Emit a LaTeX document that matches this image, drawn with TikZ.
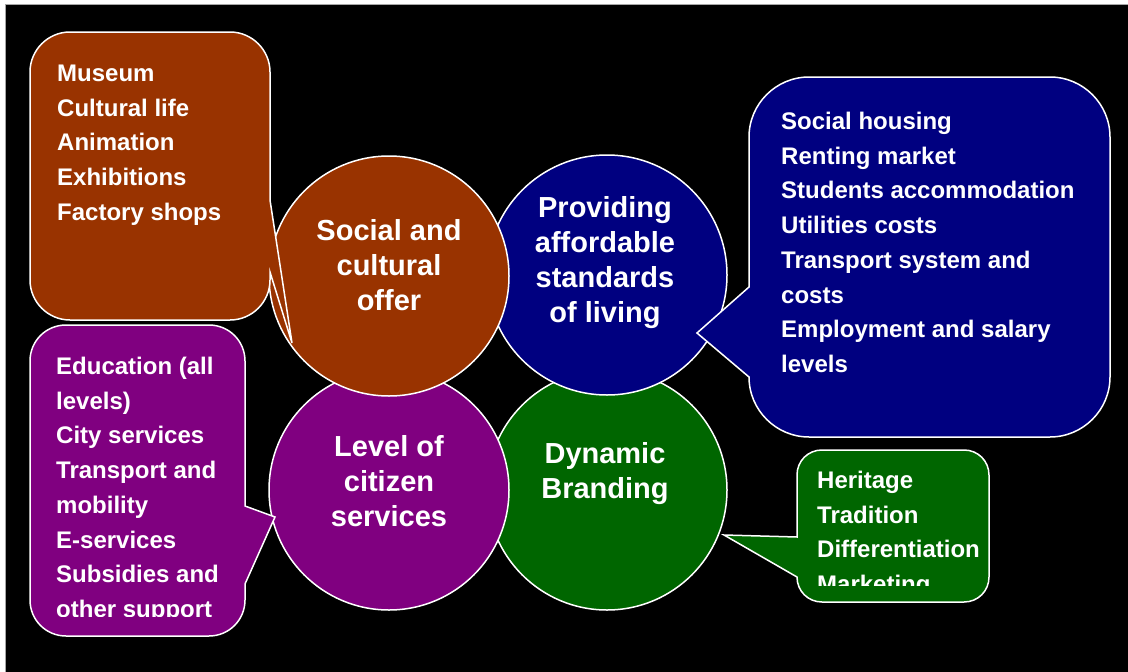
\documentclass[tikz,border=0pt]{standalone}
\usepackage{fontspec}
\setmainfont{Liberation Sans}
\definecolor{cbrown}{RGB}{153,51,0}
\definecolor{cblue}{RGB}{0,0,128}
\definecolor{cpurple}{RGB}{128,0,128}
\definecolor{cgreen}{RGB}{0,102,0}
\tikzset{
  disc/.style={circle, draw=white, line width=1.5pt, minimum size=240pt, inner sep=0pt},
  bubble/.style={draw=white, line width=1.5pt},
  big/.style={text=white, inner sep=0pt, anchor=base, align=center, font=\bfseries\fontsize{29}{35}\selectfont},
  item/.style={text=white, inner sep=0pt, anchor=base west, font=\bfseries\fontsize{24}{29}\selectfont},
}
\begin{document}
\begin{tikzpicture}[x=1pt,y=-1pt]
\useasboundingbox (0,0) rectangle (1128,672);
\fill[white] (0,0) rectangle (1128,672);
\fill[black] (5,4) rectangle (1128,672);
\draw[gray!70, line width=0.6pt] (5,672) -- (5,4) -- (1128,4);

% four overlapping discs
\node[disc, fill=cgreen]  (brand)    at (607,490) {};
\node[disc, fill=cblue]   (living)   at (607,275) {};
\node[disc, fill=cpurple] (services) at (389,490) {};
\node[disc, fill=cbrown]  (culture)  at (389,276) {};

% disc titles (anchored at the baseline of their last line)
\node[big] (tculture)  at (389,310) {Social and\\cultural\\offer};
\node[big] (tliving)   at (605,322) {Providing\\affordable\\standards\\of living};
\node[big] (tservices) at (389,526) {Level of\\citizen\\services};
\node[big] (tbrand)    at (605,498) {Dynamic\\Branding};

% callout: culture
\filldraw[bubble, fill=cbrown]
  (70,32) -- (230,32) .. controls (252,32) and (270,50) .. (270,72)
  -- (270,200) -- (292,343) -- (270,272) -- (270,280)
  .. controls (270,302) and (252,320) .. (230,320) -- (70,320)
  .. controls (48,320) and (30,302) .. (30,280) -- (30,72)
  .. controls (30,50) and (48,32) .. (70,32) -- cycle;
\foreach \t [count=\i] in {Museum,Cultural life,Animation,Exhibitions,Factory shops}
  \node[item, name=c\i] at (57,{81.5+34.7*(\i-1)}) {\t};

% callout: living
\filldraw[bubble, fill=cblue]
  (809,77) -- (1050,77) .. controls (1083,77) and (1110,104) .. (1110,137)
  -- (1110,377) .. controls (1110,410) and (1083,437) .. (1050,437)
  -- (809,437) .. controls (776,437) and (749,410) .. (749,377)
  -- (697,333) -- (749,287) -- (749,137)
  .. controls (749,104) and (776,77) .. (809,77) -- cycle;
\foreach \t [count=\i] in {Social housing,Renting market,Students accommodation,Utilities costs,Transport system and,costs,Employment and salary,levels}
  \node[item, name=l\i] at (781,{129.5+34.7*(\i-1)}) {\t};

% callout: branding
\filldraw[bubble, fill=cgreen]
  (822,450) -- (964,450) .. controls (978,450) and (989,461) .. (989,475)
  -- (989,577) .. controls (989,591) and (978,602) .. (964,602)
  -- (822,602) .. controls (808,602) and (797,591) .. (797,577)
  -- (724,535) -- (797,537) -- (797,475)
  .. controls (797,461) and (808,450) .. (822,450) -- cycle;
\begin{scope}
  \clip (797,450) rectangle (989,585);
  \foreach \t [count=\i] in {Heritage,Tradition,Differentiation,Marketing}
    \node[item, name=b\i] at (817,{488.5+34.7*(\i-1)}) {\t};
\end{scope}

% callout: services
\filldraw[bubble, fill=cpurple]
  (66,325) -- (209,325) .. controls (229,325) and (245,341) .. (245,361)
  -- (245,506) -- (275,517) -- (245,584) -- (245,600)
  .. controls (245,620) and (229,636) .. (209,636) -- (66,636)
  .. controls (46,636) and (30,620) .. (30,600) -- (30,361)
  .. controls (30,341) and (46,325) .. (66,325) -- cycle;
\begin{scope}
  \clip (30,325) rectangle (245,616);
  \foreach \t [count=\i] in {Education (all,levels),City services,Transport and,mobility,E-services,Subsidies and,other support}
    \node[item, name=s\i] at (56,{374.5+34.7*(\i-1)}) {\t};
\end{scope}
\end{tikzpicture}
\end{document}
